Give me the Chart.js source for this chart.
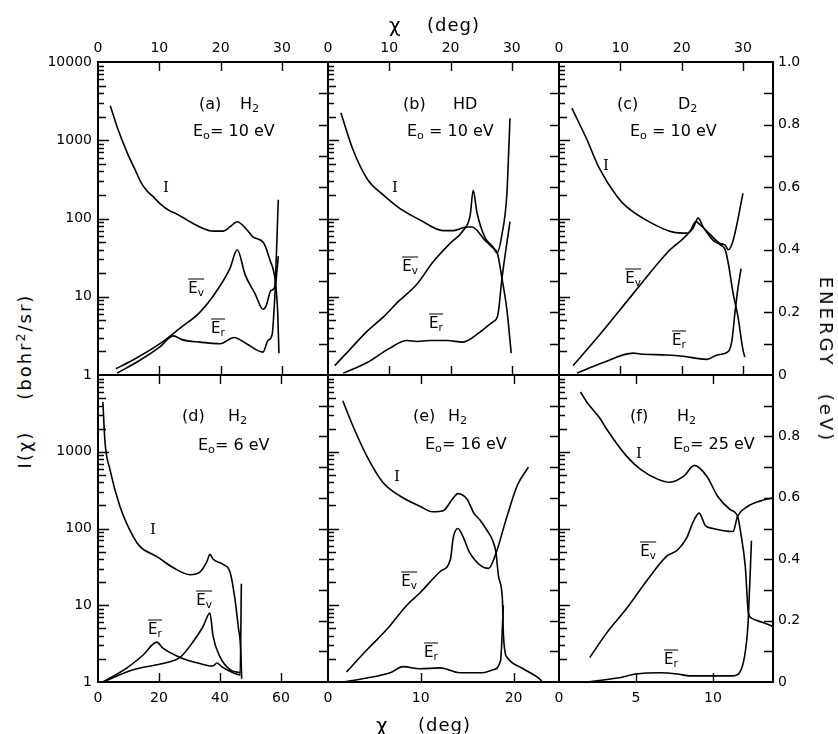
<!DOCTYPE html>
<html>
<head>
<meta charset="utf-8">
<script src="https://cdn.jsdelivr.net/npm/chart.js@4"></script>
<style>
body{margin:0;background:#fff;}
#wrap{position:relative;width:838px;height:734px;overflow:hidden;font-family:"DejaVu Sans",sans-serif;color:#000;}
canvas{position:absolute;}
.t{position:absolute;white-space:nowrap;line-height:1;transform:translateY(-50%);font-size:16px;}
.c{position:absolute;white-space:nowrap;line-height:1;transform:translate(-50%,-50%);font-size:15px;}
.ob{display:inline-block;border-top:1.5px solid #000;padding-top:1px;line-height:1;}
.ser{font-family:"DejaVu Serif",serif;}
sub{font-size:70%;vertical-align:-0.3em;line-height:0;}
sup{font-size:70%;vertical-align:0.5em;line-height:0;}
</style>
</head>
<body>
<div id="wrap"></div>
<script>
// [deg, value]; I on the log axis, Ev / Er in eV on the right axis
const aI  = [[2.0,2750],[3.3,1350],[4.7,710],[6.3,380],[7.0,290],[8.0,225],[9.0,190],[10.1,155],[11.7,125],[12.6,117],[14.5,96],[16.6,78],[18.8,69],[20.4,69],[21.5,78],[22.7,91],[24.0,76],[25.3,58],[27.0,49],[28.0,30],[28.9,16],[29.3,6.2],[29.5,1.9]];
const aEv = [[2.9,0.02],[5.7,0.048],[10.1,0.10],[13.4,0.15],[16.6,0.20],[19.4,0.27],[21.5,0.34],[22.7,0.40],[24.0,0.32],[25.6,0.26],[26.9,0.21],[27.4,0.22],[28.2,0.27],[28.8,0.28],[29.4,0.56]];
const aEr = [[3.1,0.006],[6.9,0.048],[10.1,0.09],[12.3,0.125],[13.7,0.113],[16.6,0.105],[19.9,0.10],[22.2,0.12],[24.2,0.10],[26.9,0.073],[27.7,0.11],[28.4,0.13],[28.9,0.27],[29.4,0.38]];

const bI  = [[2.1,2240],[4.1,750],[6.4,320],[9.0,200],[11.7,135],[15.0,96],[18.8,70],[20.5,70],[22.6,78],[23.5,78],[25.6,53],[26.9,42],[27.6,37],[28.4,17],[29.2,6.8],[29.9,1.9]];
const bEv = [[1.1,0.03],[3.5,0.08],[6.4,0.14],[9.0,0.185],[11.5,0.235],[14.5,0.29],[17.1,0.36],[19.9,0.42],[22.0,0.46],[23.2,0.51],[23.7,0.59],[24.3,0.52],[25.6,0.44],[26.9,0.41],[27.6,0.39],[28.4,0.45],[29.2,0.58],[29.5,0.72],[29.7,0.82]];
const bEr = [[2.5,0.006],[6.4,0.04],[10.1,0.086],[12.9,0.11],[14.5,0.107],[16.6,0.11],[19.5,0.11],[22.0,0.105],[24.8,0.137],[26.9,0.17],[27.7,0.19],[28.4,0.31],[29.7,0.49]];

const cI  = [[2.1,2570],[4.6,1000],[6.5,450],[9.5,190],[11.1,140],[14.8,90],[18.6,67],[20.9,65],[21.9,76],[22.7,101],[23.5,78],[25.1,53],[26.3,46],[27.1,40],[27.6,27],[28.4,11],[29.2,5.5],[30.0,2.1],[30.3,1.7]];
const cEv = [[2.3,0.03],[6.7,0.13],[12.1,0.26],[17.6,0.39],[21.4,0.46],[22.3,0.49],[23.0,0.48],[24.6,0.45],[26.3,0.42],[27.1,0.415],[27.6,0.40],[28.4,0.43],[30.0,0.58]];
const cEr = [[2.9,0.006],[7.0,0.038],[12.1,0.07],[13.2,0.067],[17.6,0.064],[20.2,0.06],[24.1,0.05],[25.8,0.064],[27.6,0.075],[28.2,0.11],[28.7,0.2],[29.2,0.28],[29.7,0.34]];

const dI  = [[1.6,4450],[2.3,1330],[3.9,590],[7.2,194],[11.5,79],[13.8,58],[19.3,43],[24.6,31],[30.2,25],[33.4,27],[35.7,37],[36.7,46],[37.7,40],[41.0,34],[43.3,27],[44.9,12],[46.0,5.2],[46.8,2.6],[47.1,1.1]];
const dEv = [[1.6,0],[11.5,0.04],[19.3,0.056],[23.6,0.066],[26.9,0.08],[31.1,0.13],[34.4,0.18],[36.7,0.225],[37.7,0.15],[40.0,0.082],[43.3,0.04],[46.6,0.03]];
const dEr = [[1.6,0],[9.5,0.046],[14.8,0.088],[19.3,0.13],[21.3,0.11],[26.9,0.08],[33.4,0.06],[37.7,0.052],[39.0,0.062],[40.5,0.05],[44.3,0.03],[46.6,0.023],[47.0,0.32]];

const eI  = [[1.6,4600],[2.7,2150],[4.2,870],[5.9,400],[7.8,263],[9.9,195],[11.3,165],[12.4,170],[13.5,250],[14.0,285],[15.0,240],[15.7,160],[16.4,128],[17.2,92],[17.7,72],[18.1,49],[18.4,23],[18.8,12],[18.9,4.4],[19.1,2.4],[19.3,2.1],[21.0,1.5],[22.9,1.07],[23.1,1.0]];
const eEv = [[2.0,0.033],[4.2,0.105],[6.3,0.17],[8.5,0.25],[9.9,0.29],[12.1,0.36],[13.2,0.40],[13.5,0.47],[14.0,0.50],[14.6,0.47],[15.3,0.42],[17.3,0.37],[18.0,0.41],[19.3,0.54],[20.4,0.64],[21.6,0.70]];
const eEr = [[1.6,0],[4.2,0.013],[6.7,0.03],[8.1,0.05],[9.9,0.043],[12.1,0.046],[14.2,0.03],[16.7,0.03],[17.8,0.04],[18.6,0.07],[18.9,0.25]];

const fI  = [[1.4,6000],[1.8,4450],[2.7,2650],[3.1,1960],[4.4,870],[5.3,590],[6.4,440],[7.2,400],[8.1,480],[8.8,665],[9.6,480],[10.3,263],[11.1,177],[11.6,144],[11.8,89],[12.1,32],[12.3,8],[12.5,6.8],[13.2,6.0],[13.9,5.3]];
const fEv = [[2.0,0.08],[3.1,0.16],[4.4,0.24],[5.7,0.33],[7.0,0.41],[7.7,0.43],[8.3,0.47],[8.7,0.52],[9.1,0.55],[9.5,0.51],[10.0,0.50],[11.3,0.49],[11.6,0.54],[12.2,0.57],[13.1,0.59],[13.9,0.60]];
const fEr = [[1.8,0],[3.8,0.013],[5.0,0.026],[6.6,0.03],[7.7,0.026],[8.5,0.02],[11.3,0.02],[11.9,0.05],[12.2,0.14],[12.3,0.21],[12.5,0.46]];

const xMax  = [37.5, 37.7, 34.9, 75.4, 24.9, 13.9];
const xStep = [10, 10, 10, 20, 10, 5];
const logTicks = [1, 10, 100, 1000, 10000];

Chart.defaults.font.family = '"DejaVu Sans", sans-serif';
Chart.defaults.color = '#000';

const wrap = document.getElementById('wrap');

const panels = [
  {box:[98,62,230,313],  I:aI, Ev:aEv, Er:aEr, top:true,  left:true},
  {box:[328,62,231,313], I:bI, Ev:bEv, Er:bEr, top:true},
  {box:[559,62,214,313], I:cI, Ev:cEv, Er:cEr, top:true,  right:true},
  {box:[98,375,230,307], I:dI, Ev:dEv, Er:dEr, left:true},
  {box:[328,375,231,307],I:eI, Ev:eEv, Er:eEr},
  {box:[559,375,214,307],I:fI, Ev:fEv, Er:fEr, right:true}
];

const SIDE = 60, TOPB = 40;

// tick marks pointing into the frame
const inTicks = {
  id: 'inTicks',
  afterDatasetsDraw(chart) {
    const {ctx, chartArea: ca, scales} = chart;
    ctx.save();
    ctx.strokeStyle = '#000';
    ctx.lineWidth = 1.4;
    ctx.beginPath();
    const mark = (s, v, len) => {
      const p = Math.round(s.getPixelForValue(v)) + 0.5;
      if (s.isHorizontal()) {
        if (p < ca.left + 2 || p > ca.right - 2) return;
        const y0 = s.position === 'top' ? ca.top : ca.bottom;
        ctx.moveTo(p, y0);
        ctx.lineTo(p, y0 + (s.position === 'top' ? len : -len));
      } else {
        if (p < ca.top + 2 || p > ca.bottom - 2) return;
        const x0 = s.position === 'left' ? ca.left : ca.right;
        ctx.moveTo(x0, p);
        ctx.lineTo(x0 + (s.position === 'left' ? len : -len), p);
      }
    };
    Object.values(scales).forEach(s => {
      if (s.type === 'logarithmic') {
        for (let e = 0; e < 4; e++)
          for (let m = 1; m <= 9; m++)
            mark(s, m * Math.pow(10, e), m === 1 ? 11 : (m === 2 || m === 5 ? 8 : 6));
      } else {
        s.ticks.forEach(t => mark(s, t.value, 9));
      }
    });
    ctx.stroke();
    ctx.restore();
  }
};

// fixed axis boxes so every plot area lands on its frame
function fixSize(s) {
  if (s.isHorizontal()) s.height = TOPB; else s.width = SIDE;
}

function line(pts, axis) {
  return {
    data: pts.map(([x, y]) => ({x, y})),
    yAxisID: axis,
    borderColor: '#000',
    borderWidth: 1.6,
    pointRadius: 0,
    cubicInterpolationMode: 'monotone',
    fill: false
  };
}

const frame = {display: true, color: '#000', width: 2};
const noGrid = {display: false, drawTicks: false};

panels.forEach((p, i) => {
  const [L, T, W, H] = p.box;
  const cv = document.createElement('canvas');
  cv.width = W + 2 * SIDE;
  cv.height = H + 2 * TOPB;
  cv.style.left = (L - SIDE) + 'px';
  cv.style.top = (T - TOPB) + 'px';
  wrap.appendChild(cv);

  const xAxis = (pos, show) => ({
    type: 'linear', position: pos, min: 0, max: xMax[i],
    grid: noGrid, border: frame, afterFit: fixSize,
    ticks: {display: show, stepSize: xStep[i], includeBounds: false, autoSkip: false,
            maxRotation: 0, padding: pos === 'top' ? 5 : 8, font: {size: 14}}
  });

  new Chart(cv, {
    type: 'line',
    data: {datasets: [line(p.I, 'y'), line(p.Ev, 'y2'), line(p.Er, 'y2')]},
    options: {
      responsive: false,
      animation: false,
      layout: {padding: 0},
      plugins: {legend: {display: false}, tooltip: {enabled: false}},
      scales: {
        x: xAxis('bottom', !p.top),
        x2: xAxis('top', !!p.top),
        y: {
          type: 'logarithmic', position: 'left', min: 1, max: 10000,
          grid: noGrid, border: frame, afterFit: fixSize,
          afterBuildTicks: s => { s.ticks = logTicks.map(v => ({value: v})); },
          ticks: {display: !!p.left, autoSkip: false, padding: 6, font: {size: 14},
                  callback: v => (p.top || v < 10000) ? String(v) : ''}
        },
        y2: {
          type: 'linear', position: 'right', min: 0, max: 1,
          grid: noGrid, border: frame, afterFit: fixSize,
          ticks: {display: !!p.right, stepSize: 0.1, autoSkip: false, padding: 5, font: {size: 14},
                  callback: v => {
                    const r = Math.round(v * 10);
                    if (r % 2) return '';
                    if (r === 10 && !p.top) return '';
                    return r === 0 ? '0' : (r / 10).toFixed(1);
                  }}
        }
      }
    },
    plugins: [inTicks]
  });
});

function put(cls, html, x, y, style) {
  const d = document.createElement('div');
  d.className = cls;
  d.innerHTML = html;
  d.style.left = x + 'px';
  d.style.top = y + 'px';
  if (style) d.style.cssText += style;
  wrap.appendChild(d);
}

// axis titles
put('t', 'χ', 389, 25, 'font-size:20px;');
put('t', '(deg)', 427, 25, 'font-size:18px;letter-spacing:1px;');
put('t', 'χ', 376, 725, 'font-size:20px;');
put('t', '(deg)', 418, 725, 'font-size:18px;letter-spacing:1px;');
put('c', 'I(χ)&nbsp;&nbsp;&nbsp;&nbsp;(bohr<sup>2</sup>/sr)', 25, 381,
    'font-size:18px;letter-spacing:2px;transform:translate(-50%,-50%) rotate(-90deg);');
put('c', 'ENERGY&nbsp;&nbsp;&nbsp;(eV)', 826, 360,
    'font-size:18px;letter-spacing:3px;transform:translate(-50%,-50%) rotate(90deg);');

// panel captions
put('t', '(a)', 199, 104); put('t', 'H<sub>2</sub>', 240, 104);
put('t', 'E<sub>o</sub>= 10 eV', 193, 131);
put('t', '(b)', 403, 104); put('t', 'HD', 453, 104);
put('t', 'E<sub>o</sub> = 10 eV', 407, 131);
put('t', '(c)', 617, 104); put('t', 'D<sub>2</sub>', 678, 104);
put('t', 'E<sub>o</sub> = 10 eV', 630, 131);
put('t', '(d)', 182, 416); put('t', 'H<sub>2</sub>', 228, 416);
put('t', 'E<sub>o</sub>= 6 eV', 198, 445);
put('t', '(e)', 413, 416); put('t', 'H<sub>2</sub>', 448, 416);
put('t', 'E<sub>o</sub>= 16 eV', 425, 444);
put('t', '(f)', 630, 416); put('t', 'H<sub>2</sub>', 677, 416);
put('t', 'E<sub>o</sub>= 25 eV', 673, 444);

// curve labels
const ev = '<span class="ob">E<sub>v</sub></span>';
const er = '<span class="ob">E<sub>r</sub></span>';
put('c ser', 'I', 166, 187); put('c', ev, 196, 287); put('c', er, 218, 327);
put('c ser', 'I', 395, 187); put('c', ev, 410, 265); put('c', er, 436, 322);
put('c ser', 'I', 606, 165); put('c', ev, 633, 277); put('c', er, 679, 339);
put('c ser', 'I', 153, 529); put('c', er, 155, 628); put('c', ev, 204, 599);
put('c ser', 'I', 397, 476); put('c', ev, 409, 580); put('c', er, 431, 651);
put('c ser', 'I', 639, 453); put('c', ev, 648, 550); put('c', er, 671, 658);
</script>
</body>
</html>
